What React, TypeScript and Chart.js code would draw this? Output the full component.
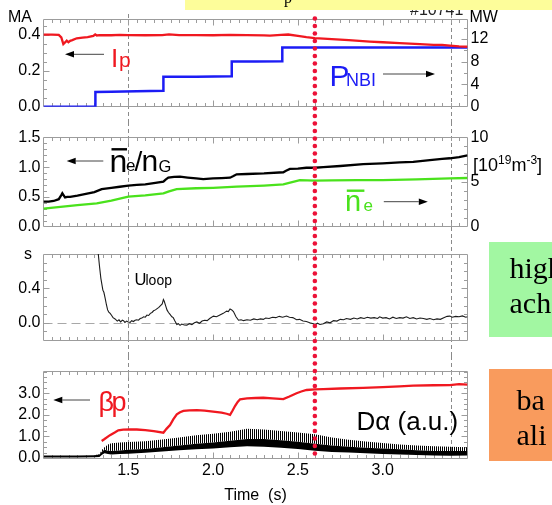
import React, { useEffect, useRef } from 'react';
import { Chart, registerables } from 'chart.js';

Chart.register(...registerables);

const SANS = '"Liberation Sans", Arial, Helvetica, sans-serif';
const SERIF = '"Liberation Serif", "Times New Roman", Times, serif';

// ---------------- data ----------------
const timeMin = 1.0;
const timeMax = 3.5;
const timeTicks = [1.5, 2.0, 2.5, 3.0];
const dashedTimes = [1.5, 3.4];
const markerTime = 2.6;

const ipTicks = [0, 0.2, 0.4];
const pnbiTicks = [0, 4, 8, 12];
const ratioTicks = [0, 0.5, 1.0, 1.5];
const densTicks = [0, 5, 10];
const uloopTicks = [0, 0.4];
const betaTicks = [0, 1, 2, 3];

// plasma current Ip [MA] (time s, value)
const ipData: [number, number][] = [
  [1.0, 0.4], [1.05, 0.4], [1.09, 0.399], [1.105, 0.385], [1.117, 0.348], [1.127, 0.357],
  [1.137, 0.367], [1.147, 0.358], [1.157, 0.366], [1.17, 0.37], [1.196, 0.38], [1.23, 0.384],
  [1.26, 0.387], [1.294, 0.393], [1.305, 0.402], [1.314, 0.396], [1.33, 0.398], [1.4, 0.397],
  [1.45, 0.399], [1.5, 0.398], [1.6, 0.397], [1.7, 0.398], [1.74, 0.402], [1.8, 0.398],
  [1.9, 0.398], [2.0, 0.397], [2.1, 0.399], [2.2, 0.398], [2.3, 0.396], [2.335, 0.395],
  [2.4, 0.399], [2.443, 0.401], [2.5, 0.393], [2.55, 0.386], [2.6, 0.381], [2.7, 0.376],
  [2.8, 0.37], [2.924, 0.362], [3.0, 0.358], [3.1, 0.353], [3.219, 0.348], [3.3, 0.344],
  [3.35, 0.343], [3.396, 0.339], [3.45, 0.335], [3.5, 0.333],
];

// NBI power [MW]
const pnbiData: [number, number][] = [
  [1.0, 0], [1.306, 0], [1.306, 2.6], [1.4, 2.66], [1.55, 2.75], [1.707, 2.82], [1.707, 5.3],
  [1.9, 5.33], [2.11, 5.38], [2.11, 8.0], [2.25, 8.02], [2.408, 8.05], [2.408, 10.5],
  [3.0, 10.5], [3.5, 10.5],
];

// Greenwald fraction ne/nG
const ratioData: [number, number][] = [
  [1.0, 0.42], [1.03, 0.42], [1.06, 0.43], [1.09, 0.46], [1.105, 0.53], [1.111, 0.56],
  [1.12, 0.52], [1.127, 0.49], [1.14, 0.5], [1.157, 0.5], [1.2, 0.52], [1.25, 0.55],
  [1.3, 0.58], [1.343, 0.63], [1.4, 0.65], [1.45, 0.67], [1.5, 0.69], [1.55, 0.7],
  [1.6, 0.71], [1.65, 0.73], [1.707, 0.756], [1.72, 0.79], [1.736, 0.823], [1.77, 0.835],
  [1.805, 0.84], [1.85, 0.825], [1.9, 0.81], [1.942, 0.8], [2.0, 0.81], [2.05, 0.815],
  [2.1, 0.823], [2.12, 0.85], [2.139, 0.88], [2.2, 0.885], [2.3, 0.895], [2.414, 0.914],
  [2.43, 0.94], [2.453, 0.97], [2.5, 0.975], [2.55, 0.99], [2.6, 0.99], [2.65, 1.0],
  [2.75, 1.02], [2.885, 1.05], [3.0, 1.065], [3.1, 1.08], [3.18, 1.09], [3.278, 1.12],
  [3.35, 1.14], [3.396, 1.15], [3.45, 1.17], [3.5, 1.2],
];

// line-averaged density [1e19 m^-3]
const densData: [number, number][] = [
  [1.0, 2.0], [1.1, 2.2], [1.2, 2.4], [1.314, 2.6], [1.4, 2.9], [1.5, 3.35], [1.6, 3.5],
  [1.707, 3.73], [1.74, 3.95], [1.785, 4.21], [1.9, 4.3], [2.0, 4.35], [2.139, 4.47],
  [2.3, 4.6], [2.414, 4.74], [2.46, 4.95], [2.512, 5.2], [2.6, 5.15], [2.7, 5.18],
  [2.85, 5.2], [3.0, 5.22], [3.2, 5.3], [3.396, 5.41], [3.5, 5.45],
];

// loop voltage [V]
const uloopData: [number, number][] = [
  [1.323, 0.8], [1.33, 0.66], [1.338, 0.52], [1.344, 0.45], [1.35, 0.38], [1.356, 0.355],
  [1.364, 0.28], [1.371, 0.21], [1.378, 0.15], [1.385, 0.125], [1.393, 0.11], [1.4, 0.09],
  [1.41, 0.06], [1.422, 0.045], [1.435, 0.02], [1.445, 0.035], [1.455, 0.01], [1.465, 0.03],
  [1.472, 0.025], [1.48, 0.005], [1.49, 0.02], [1.5, 0.01], [1.511, 0.005], [1.52, 0.025],
  [1.53, 0.015], [1.54, 0.03], [1.55, 0.035], [1.56, 0.03], [1.57, 0.05], [1.58, 0.055],
  [1.59, 0.07], [1.6, 0.065], [1.61, 0.09], [1.62, 0.085], [1.63, 0.11], [1.64, 0.12],
  [1.649, 0.14], [1.66, 0.15], [1.67, 0.165], [1.68, 0.18], [1.69, 0.2], [1.7, 0.22],
  [1.707, 0.27], [1.712, 0.25], [1.72, 0.2], [1.728, 0.15], [1.737, 0.12], [1.745, 0.1],
  [1.757, 0.07], [1.765, 0.06], [1.775, 0.02], [1.786, -0.02], [1.795, -0.01], [1.805, -0.03],
  [1.815, -0.015], [1.83, -0.025], [1.845, -0.027], [1.86, -0.01], [1.875, -0.02], [1.89, 0.0],
  [1.904, 0.01], [1.92, -0.005], [1.935, 0.02], [1.95, 0.03], [1.965, 0.025], [1.98, 0.05],
  [2.002, 0.078], [2.02, 0.07], [2.04, 0.09], [2.06, 0.11], [2.08, 0.136], [2.09, 0.13],
  [2.1, 0.16], [2.11, 0.15], [2.12, 0.13], [2.135, 0.07], [2.15, 0.03], [2.165, 0.035],
  [2.18, 0.025], [2.2, 0.035], [2.22, 0.03], [2.24, 0.045], [2.26, 0.035], [2.28, 0.045],
  [2.296, 0.04], [2.31, 0.055], [2.33, 0.05], [2.35, 0.065], [2.37, 0.06], [2.39, 0.075],
  [2.41, 0.065], [2.433, 0.078], [2.45, 0.065], [2.47, 0.06], [2.492, 0.035], [2.51, 0.04],
  [2.53, 0.02], [2.55, 0.015], [2.57, 0.0], [2.59, -0.01], [2.6, -0.027], [2.615, -0.005],
  [2.63, -0.02], [2.65, -0.01], [2.67, 0.01], [2.69, 0.0], [2.71, 0.025], [2.73, 0.02],
  [2.75, 0.04], [2.77, 0.035], [2.786, 0.05], [2.81, 0.04], [2.83, 0.055], [2.85, 0.045],
  [2.87, 0.06], [2.89, 0.05], [2.91, 0.065], [2.93, 0.055], [2.95, 0.06], [2.97, 0.05],
  [2.982, 0.07], [3.0, 0.055], [3.02, 0.06], [3.04, 0.045], [3.06, 0.065], [3.08, 0.05],
  [3.1, 0.06], [3.12, 0.055], [3.14, 0.07], [3.16, 0.05], [3.18, 0.06], [3.2, 0.045],
  [3.22, 0.055], [3.24, 0.05], [3.26, 0.04], [3.278, 0.05], [3.3, 0.035], [3.32, 0.045],
  [3.34, 0.04], [3.36, 0.06], [3.38, 0.075], [3.396, 0.078], [3.41, 0.065], [3.43, 0.075],
  [3.45, 0.07], [3.47, 0.08], [3.49, 0.065], [3.5, 0.07],
];

// poloidal beta
const betaData: [number, number][] = [
  [1.343, 0.79], [1.36, 0.88], [1.392, 1.06], [1.42, 1.18], [1.441, 1.28], [1.47, 1.31],
  [1.51, 1.33], [1.55, 1.32], [1.6, 1.29], [1.65, 1.24], [1.707, 1.17], [1.725, 1.35],
  [1.746, 1.53], [1.766, 1.8], [1.786, 2.02], [1.805, 2.12], [1.825, 2.18], [1.86, 2.21],
  [1.904, 2.22], [1.95, 2.19], [2.0, 2.15], [2.05, 2.1], [2.08, 2.05], [2.1, 2.0],
  [2.115, 2.2], [2.13, 2.42], [2.145, 2.6], [2.159, 2.72], [2.2, 2.76], [2.25, 2.78],
  [2.296, 2.79], [2.35, 2.76], [2.414, 2.73], [2.45, 2.85], [2.492, 3.0], [2.52, 3.08],
  [2.551, 3.15], [2.6, 3.18], [2.65, 3.19], [2.75, 3.22], [2.885, 3.25], [3.0, 3.28],
  [3.1, 3.32], [3.18, 3.35], [3.3, 3.37], [3.396, 3.38], [3.45, 3.42], [3.5, 3.4],
];

// D-alpha emission (a.u.): dense band -> lower edge, core top, spike tops
const daTime = [1.0, 1.1, 1.2, 1.3, 1.33, 1.345, 1.36, 1.38, 1.4, 1.45, 1.5, 1.6, 1.7, 1.8, 1.9, 2.0, 2.1, 2.2, 2.3, 2.4, 2.5, 2.6, 2.7, 2.8, 2.9, 3.0, 3.1, 3.2, 3.3, 3.4, 3.5];
const daLow = [0.02, 0.02, 0.02, 0.03, 0.05, 0.15, 0.22, 0.18, 0.16, 0.18, 0.2, 0.24, 0.3, 0.36, 0.4, 0.44, 0.5, 0.54, 0.52, 0.48, 0.42, 0.34, 0.28, 0.25, 0.22, 0.19, 0.16, 0.14, 0.12, 0.11, 0.12];
const daCore = [0.12, 0.12, 0.12, 0.13, 0.16, 0.3, 0.38, 0.34, 0.33, 0.35, 0.38, 0.42, 0.5, 0.58, 0.66, 0.72, 0.8, 0.88, 0.88, 0.82, 0.75, 0.66, 0.58, 0.52, 0.48, 0.44, 0.4, 0.36, 0.33, 0.32, 0.33];
const daPeak = [0.12, 0.12, 0.12, 0.13, 0.18, 0.38, 0.5, 0.62, 0.68, 0.72, 0.74, 0.78, 0.86, 0.95, 1.05, 1.12, 1.22, 1.35, 1.32, 1.25, 1.18, 1.1, 0.95, 0.84, 0.76, 0.69, 0.63, 0.58, 0.55, 0.52, 0.5];

// ---------------- styling / layout ----------------
const RED = '#f01820';
const BLUE = '#1c1cf5';
const GREEN = '#4ae21c';
const DOTS = '#ec1238';
const FRAME = '#9c9c9c';

const CANVAS_W = 552;
const LEFT_W = 43.5;
const RIGHT_W = 84.5;
const LINE_TOP = 14;
const DOT_TOP = 18.5;
const LINE_BOTTOM = 458;
const DOT_STEP = 7.5;

const pts = (a: [number, number][]) => a.map(([x, y]) => ({ x, y }));
const ptsFrom = (t: number[], v: number[]) => t.map((x, i) => ({ x, y: v[i] }));

type AxisSpec = { min: number; max: number; ticks: number[]; fmt: (v: number) => string; minor: number; show: boolean };
type PanelSpec = {
  top: number; height: number; plotTop: number; plotBottom: number; showX: boolean;
  y: AxisSpec; y1: AxisSpec; rightTickAxis: 'y' | 'y1'; zeroLine?: boolean;
  datasets: (pattern: CanvasPattern | string) => any[];
};

const f1 = (v: number) => v.toFixed(1);
const f0 = (v: number) => String(Math.round(v));

const panels: PanelSpec[] = [
  {
    top: 0, height: 122, plotTop: 19.3, plotBottom: 106.7, showX: false,
    y: { min: 0, max: 0.4856, ticks: ipTicks, fmt: f1, minor: 0.05, show: true },
    y1: { min: 0, max: 15.5, ticks: pnbiTicks, fmt: f0, minor: 2, show: true },
    rightTickAxis: 'y1',
    datasets: () => [
      { data: pts(ipData), borderColor: RED, borderWidth: 2.3, yAxisID: 'y' },
      { data: pts(pnbiData), borderColor: BLUE, borderWidth: 2.5, yAxisID: 'y1' },
    ],
  },
  {
    top: 122, height: 118, plotTop: 137.5, plotBottom: 226.5, showX: false,
    y: { min: 0, max: 1.5, ticks: ratioTicks, fmt: f1, minor: 0.1, show: true },
    y1: { min: 0, max: 10, ticks: densTicks, fmt: f0, minor: 1, show: true },
    rightTickAxis: 'y1',
    datasets: () => [
      { data: pts(ratioData), borderColor: '#000', borderWidth: 2.3, yAxisID: 'y' },
      { data: pts(densData), borderColor: GREEN, borderWidth: 2.3, yAxisID: 'y1' },
    ],
  },
  {
    top: 240, height: 116, plotTop: 254, plotBottom: 340, showX: false,
    y: { min: -0.2, max: 0.8, ticks: uloopTicks, fmt: f1, minor: 0.1, show: true },
    y1: { min: -0.2, max: 0.8, ticks: [], fmt: f1, minor: 0.1, show: false },
    rightTickAxis: 'y', zeroLine: true,
    datasets: () => [
      { data: pts(uloopData), borderColor: '#1c1c1c', borderWidth: 1.1, yAxisID: 'y' },
    ],
  },
  {
    top: 356, height: 149, plotTop: 371, plotBottom: 458, showX: true,
    y: { min: 0, max: 4.03, ticks: betaTicks, fmt: f1, minor: 0.25, show: true },
    y1: { min: 0, max: 4.03, ticks: [], fmt: f1, minor: 0.25, show: false },
    rightTickAxis: 'y',
    datasets: (pattern) => [
      { data: pts(betaData), borderColor: RED, borderWidth: 2.3, yAxisID: 'y' },
      { data: ptsFrom(daTime, daLow), borderColor: 'rgba(0,0,0,0)', borderWidth: 0, fill: false, yAxisID: 'y' },
      { data: ptsFrom(daTime, daCore), borderColor: 'rgba(0,0,0,0)', borderWidth: 0, fill: '-1', backgroundColor: '#000', yAxisID: 'y' },
      { data: ptsFrom(daTime, daPeak), borderColor: 'rgba(0,0,0,0)', borderWidth: 0, fill: '-1', backgroundColor: pattern, yAxisID: 'y' },
    ],
  },
];

function makeDecor(spec: PanelSpec) {
  const tickPath = (ctx: CanvasRenderingContext2D, scale: any, ax: AxisSpec, xEdge: number, dir: number) => {
    const n0 = Math.ceil(ax.min / ax.minor - 1e-6);
    const n1 = Math.floor(ax.max / ax.minor + 1e-6);
    for (let k = n0; k <= n1; k++) {
      const v = k * ax.minor;
      if (Math.abs(v - ax.min) < 1e-6 || Math.abs(v - ax.max) < 1e-6) continue;
      const major = ax.ticks.some((m) => Math.abs(m - v) < 1e-6);
      const len = major ? 6 : 3.5;
      const py = Math.round(scale.getPixelForValue(v)) + 0.5;
      ctx.moveTo(xEdge, py);
      ctx.lineTo(xEdge + dir * len, py);
    }
  };
  return {
    id: 'panelDecor',
    beforeDatasetsDraw(chart: any) {
      const { ctx, chartArea: a, scales } = chart;
      const xs = scales.x;
      ctx.save();
      // dashed time markers, across the whole figure
      ctx.strokeStyle = '#8a8a8a';
      ctx.lineWidth = 1;
      ctx.setLineDash([4, 3]);
      const y0 = Math.max(0, LINE_TOP - spec.top);
      const y1 = Math.min(chart.height, LINE_BOTTOM - spec.top);
      for (const t of dashedTimes) {
        const px = Math.round(xs.getPixelForValue(t)) + 0.5;
        ctx.beginPath();
        ctx.moveTo(px, y0);
        ctx.lineTo(px, y1);
        ctx.stroke();
      }
      if (spec.zeroLine) {
        const py = Math.round(scales.y.getPixelForValue(0)) + 0.5;
        ctx.strokeStyle = '#a8a8a8';
        ctx.setLineDash([9, 5]);
        ctx.beginPath();
        ctx.moveTo(a.left, py);
        ctx.lineTo(a.right, py);
        ctx.stroke();
      }
      ctx.setLineDash([]);
      // frame
      const L = Math.floor(a.left) + 0.5;
      const R = Math.floor(a.right) + 0.5;
      const T = Math.floor(a.top) + 0.5;
      const B = Math.floor(a.bottom) + 0.5;
      ctx.strokeStyle = FRAME;
      ctx.beginPath();
      ctx.rect(L, T, R - L, B - T);
      // time ticks top and bottom
      const steps = Math.round((timeMax - timeMin) / 0.05);
      for (let i = 1; i < steps; i++) {
        const t = timeMin + i * 0.05;
        const px = Math.round(xs.getPixelForValue(t)) + 0.5;
        const len = i % 10 === 0 ? 6 : 3.5;
        ctx.moveTo(px, T);
        ctx.lineTo(px, T + len);
        ctx.moveTo(px, B);
        ctx.lineTo(px, B - len);
      }
      tickPath(ctx, scales.y, spec.y, L, 1);
      tickPath(ctx, scales[spec.rightTickAxis], spec.rightTickAxis === 'y1' ? spec.y1 : spec.y, R, -1);
      ctx.stroke();
      ctx.restore();
    },
    afterDatasetsDraw(chart: any) {
      const { ctx, scales } = chart;
      const px = scales.x.getPixelForValue(markerTime);
      ctx.save();
      ctx.fillStyle = DOTS;
      const kStart = Math.max(0, Math.ceil((spec.top - 3 - DOT_TOP) / DOT_STEP));
      for (let k = kStart; ; k++) {
        const yAbs = DOT_TOP + k * DOT_STEP;
        if (yAbs > LINE_BOTTOM || yAbs > spec.top + spec.height + 3) break;
        ctx.beginPath();
        ctx.arc(px, yAbs - spec.top, 2.3, 0, Math.PI * 2);
        ctx.fill();
      }
      ctx.restore();
    },
  };
}

function buildChart(canvas: HTMLCanvasElement, spec: PanelSpec) {
  const pc = document.createElement('canvas');
  pc.width = 2;
  pc.height = 2;
  const g = pc.getContext('2d')!;
  g.fillStyle = '#000';
  g.fillRect(0, 0, 1, 2);
  const ctx = canvas.getContext('2d')!;
  const pattern = ctx.createPattern(pc, 'repeat') || 'rgba(0,0,0,0.6)';

  const tickFont = { family: SANS, size: 16 };
  const yAxis = (ax: AxisSpec, position: 'left' | 'right', width: number) => ({
    type: 'linear',
    position,
    min: ax.min,
    max: ax.max,
    afterBuildTicks: (s: any) => { s.ticks = ax.ticks.map((v) => ({ value: v })); },
    afterFit: (s: any) => { s.width = width; },
    grid: { display: false, drawTicks: false },
    border: { display: false },
    ticks: {
      display: ax.show,
      font: tickFont,
      color: '#000',
      padding: 3,
      autoSkip: false,
      callback: (v: any) => ax.fmt(Number(v)),
    },
  });

  return new Chart(canvas, {
    type: 'line',
    data: { datasets: spec.datasets(pattern) },
    options: {
      responsive: false,
      animation: false,
      devicePixelRatio: 1,
      events: [],
      layout: {
        padding: {
          top: spec.plotTop - spec.top,
          bottom: spec.showX ? 0 : spec.top + spec.height - spec.plotBottom,
          left: 0,
          right: 0,
        },
      },
      elements: { point: { radius: 0 }, line: { tension: 0 } },
      plugins: { legend: { display: false }, tooltip: { enabled: false } },
      scales: {
        x: {
          type: 'linear',
          min: timeMin,
          max: timeMax,
          display: spec.showX,
          afterBuildTicks: (s: any) => { s.ticks = timeTicks.map((v) => ({ value: v })); },
          afterFit: (s: any) => {
            if (spec.showX) s.height = spec.top + spec.height - spec.plotBottom;
          },
          grid: { display: false, drawTicks: false },
          border: { display: false },
          ticks: {
            font: tickFont,
            color: '#000',
            padding: 3,
            maxRotation: 0,
            autoSkip: false,
            callback: (v: any) => Number(v).toFixed(1),
          },
          title: {
            display: true,
            text: 'Time  (s)',
            font: { family: SANS, size: 16 },
            color: '#000',
            padding: { top: 0, bottom: 0 },
          },
        },
        y: yAxis(spec.y, 'left', LEFT_W),
        y1: yAxis(spec.y1, 'right', RIGHT_W),
      } as any,
    },
    plugins: [makeDecor(spec)],
  } as any);
}

// ---------------- annotations ----------------
type Txt = { x: number; b: number; s: number; t: string; c?: string; serif?: boolean };
const texts: Txt[] = [
  { x: 8, b: 22.5, s: 16, t: 'MA' },
  { x: 469.5, b: 23, s: 16, t: 'MW' },
  { x: 111, b: 66.7, s: 26, t: 'I', c: RED },
  { x: 119, b: 67, s: 21, t: 'p', c: RED },
  { x: 329.5, b: 86.7, s: 30, t: 'P', c: BLUE },
  { x: 346, b: 86.7, s: 18, t: 'NBI', c: BLUE },
  { x: 109.5, b: 171.7, s: 32, t: 'n' },
  { x: 126, b: 171.7, s: 17, t: 'e' },
  { x: 134.5, b: 171.7, s: 28, t: '/' },
  { x: 141.5, b: 171.7, s: 30, t: 'n' },
  { x: 158.5, b: 171.7, s: 16.5, t: 'G' },
  { x: 345, b: 211.7, s: 29, t: 'n', c: GREEN },
  { x: 363.5, b: 211.7, s: 17, t: 'e', c: GREEN },
  { x: 24, b: 260, s: 16, t: 's' },
  { x: 134.5, b: 285, s: 16.5, t: 'U' },
  { x: 145.5, b: 285, s: 14, t: 'loop' },
  { x: 98.5, b: 412.3, s: 27, t: 'β', c: RED },
  { x: 111.5, b: 412.3, s: 27, t: 'p', c: RED },
  { x: 356.5, b: 430, s: 26, t: 'Dα (a.u.)' },
];

const arrows = [
  { tail: 104, head: 65, y: 54.3 },
  { tail: 383, head: 435, y: 74 },
  { tail: 103.3, head: 66.7, y: 161 },
  { tail: 383.8, head: 427.8, y: 201.7 },
  { tail: 90, head: 53.3, y: 400 },
];

const overbars = [
  { x1: 111.5, x2: 127, y: 149.3, c: '#000' },
  { x1: 346.8, x2: 364.4, y: 190.7, c: GREEN },
];

function Label({ x, b, s, c = '#000', serif = false, children }: any) {
  const asc = serif ? 0.8375 : 0.8465;
  return (
    <div
      style={{
        position: 'absolute', left: x, top: b - asc * s, fontSize: s, lineHeight: `${s}px`,
        fontFamily: serif ? SERIF : SANS, color: c, whiteSpace: 'pre',
      }}
    >
      {children}
    </div>
  );
}

const sup: React.CSSProperties = { fontSize: 12, position: 'relative', top: -7 };

export default function App() {
  const refs = useRef<(HTMLCanvasElement | null)[]>([]);

  useEffect(() => {
    const charts = panels.map((p, i) => buildChart(refs.current[i]!, p));
    return () => charts.forEach((c) => c.destroy());
  }, []);

  return (
    <div
      style={{
        position: 'absolute', left: 0, top: 0, width: 552, height: 505, overflow: 'hidden',
        background: '#fff', fontFamily: SANS,
      }}
    >
      {panels.map((p, i) => (
        <canvas
          key={i}
          ref={(el) => { refs.current[i] = el; }}
          width={CANVAS_W}
          height={p.height}
          style={{ position: 'absolute', left: 0, top: p.top, width: CANVAS_W, height: p.height, display: 'block' }}
        />
      ))}

      <svg width={552} height={505} style={{ position: 'absolute', left: 0, top: 0 }}>
        {arrows.map((a, i) => {
          const dir = a.head > a.tail ? 1 : -1;
          const hl = 9;
          return (
            <g key={i}>
              <line x1={a.tail} y1={a.y} x2={a.head - dir * hl} y2={a.y} stroke="#444" strokeWidth={1} />
              <polygon
                points={`${a.head},${a.y} ${a.head - dir * hl},${a.y - 3.2} ${a.head - dir * hl},${a.y + 3.2}`}
                fill="#000"
              />
            </g>
          );
        })}
        {overbars.map((o, i) => (
          <rect key={i} x={o.x1} y={o.y - 1.2} width={o.x2 - o.x1} height={2.4} fill={o.c} />
        ))}
      </svg>

      {texts.map((t, i) => (
        <Label key={i} x={t.x} b={t.b} s={t.s} c={t.c} serif={t.serif}>{t.t}</Label>
      ))}

      <Label x={473} b={171} s={18}>
        [10<span style={sup}>19</span>m<span style={sup}>-3</span>]
      </Label>

      {/* partially hidden header */}
      <Label x={410} b={15.5} s={16} c="#222">#10741</Label>
      <div style={{ position: 'absolute', left: 185, top: 0, width: 367, height: 10, background: '#fdfd9a' }} />
      <Label x={284} b={3.5} s={16} serif>p</Label>

      {/* side notes (cropped) */}
      <div style={{ position: 'absolute', left: 489, top: 241.7, width: 70, height: 95, background: '#a2f7a2' }} />
      <Label x={509.5} b={278.5} s={30} serif>high</Label>
      <Label x={509.5} b={313.5} s={30} serif>ach</Label>

      <div style={{ position: 'absolute', left: 489, top: 369, width: 70, height: 92, background: '#f99b5d' }} />
      <Label x={516.5} b={410} s={30} serif>ba</Label>
      <Label x={516.5} b={445} s={30} serif>ali</Label>
    </div>
  );
}
